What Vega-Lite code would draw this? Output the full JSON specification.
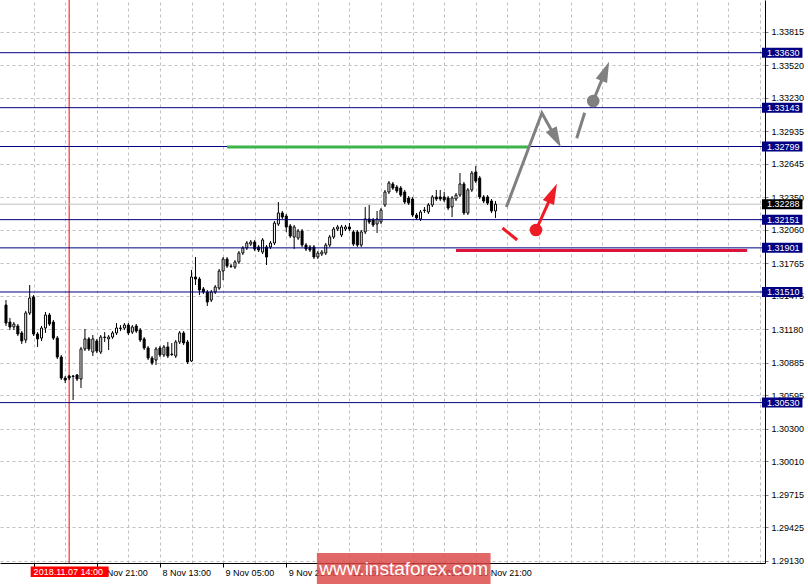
{
  "$schema": "https://vega.github.io/schema/vega-lite/v6.json",
  "width": 765,
  "height": 563,
  "autosize": {"type": "none"},
  "padding": {"left": 0, "top": 0, "right": 43, "bottom": 21},
  "background": "#ffffff",
  "config": {"view": {"stroke": null}, "font": "Liberation Sans"},
  "resolve": {"scale": {"color": "independent"}, "axis": {"x": "independent", "y": "independent"}},
  "datasets": {
    "candles": [
      {"i":0,"o":1.31395,"h":1.31439,"l":1.31209,"c":1.31235},
      {"i":1,"o":1.31244,"h":1.31280,"l":1.31173,"c":1.31200},
      {"i":2,"o":1.31200,"h":1.31244,"l":1.31173,"c":1.31226},
      {"i":3,"o":1.31209,"h":1.31226,"l":1.31120,"c":1.31138},
      {"i":4,"o":1.31147,"h":1.31164,"l":1.31049,"c":1.31076},
      {"i":5,"o":1.31085,"h":1.31342,"l":1.31058,"c":1.31324},
      {"i":6,"o":1.31324,"h":1.31572,"l":1.31306,"c":1.31457},
      {"i":7,"o":1.31466,"h":1.31483,"l":1.31120,"c":1.31138},
      {"i":8,"o":1.31138,"h":1.31155,"l":1.31023,"c":1.31094},
      {"i":9,"o":1.31102,"h":1.31209,"l":1.31076,"c":1.31191},
      {"i":10,"o":1.31191,"h":1.31333,"l":1.31147,"c":1.31306},
      {"i":11,"o":1.31306,"h":1.31324,"l":1.31209,"c":1.31226},
      {"i":12,"o":1.31244,"h":1.31262,"l":1.31085,"c":1.31102},
      {"i":13,"o":1.31102,"h":1.31120,"l":1.30916,"c":1.30934},
      {"i":14,"o":1.30934,"h":1.30952,"l":1.30730,"c":1.30748},
      {"i":15,"o":1.30748,"h":1.30766,"l":1.30704,"c":1.30730},
      {"i":16,"o":1.30766,"h":1.30775,"l":1.30730,"c":1.30748},
      {"i":17,"o":1.30766,"h":1.30775,"l":1.30553,"c":1.30761},
      {"i":18,"o":1.30775,"h":1.30783,"l":1.30721,"c":1.30739},
      {"i":19,"o":1.30739,"h":1.31023,"l":1.30659,"c":1.31005},
      {"i":20,"o":1.31005,"h":1.31182,"l":1.30987,"c":1.31094},
      {"i":21,"o":1.31094,"h":1.31111,"l":1.30987,"c":1.31005},
      {"i":22,"o":1.30978,"h":1.31129,"l":1.30943,"c":1.31094},
      {"i":23,"o":1.31076,"h":1.31094,"l":1.30969,"c":1.30987},
      {"i":24,"o":1.30978,"h":1.31129,"l":1.30960,"c":1.31111},
      {"i":25,"o":1.31111,"h":1.31155,"l":1.31067,"c":1.31107},
      {"i":26,"o":1.31094,"h":1.31129,"l":1.30996,"c":1.31111},
      {"i":27,"o":1.31111,"h":1.31164,"l":1.31094,"c":1.31147},
      {"i":28,"o":1.31147,"h":1.31235,"l":1.31129,"c":1.31191},
      {"i":29,"o":1.31191,"h":1.31217,"l":1.31164,"c":1.31187},
      {"i":30,"o":1.31191,"h":1.31235,"l":1.31173,"c":1.31217},
      {"i":31,"o":1.31217,"h":1.31235,"l":1.31129,"c":1.31147},
      {"i":32,"o":1.31155,"h":1.31217,"l":1.31138,"c":1.31200},
      {"i":33,"o":1.31209,"h":1.31226,"l":1.31147,"c":1.31164},
      {"i":34,"o":1.31173,"h":1.31191,"l":1.31067,"c":1.31085},
      {"i":35,"o":1.31094,"h":1.31111,"l":1.30996,"c":1.31014},
      {"i":36,"o":1.31014,"h":1.31032,"l":1.30907,"c":1.30925},
      {"i":37,"o":1.30925,"h":1.30943,"l":1.30863,"c":1.30881},
      {"i":38,"o":1.30907,"h":1.31023,"l":1.30863,"c":1.31005},
      {"i":39,"o":1.31014,"h":1.31032,"l":1.30934,"c":1.30952},
      {"i":40,"o":1.30952,"h":1.31040,"l":1.30934,"c":1.31023},
      {"i":41,"o":1.31023,"h":1.31067,"l":1.30925,"c":1.30943},
      {"i":42,"o":1.30960,"h":1.31058,"l":1.30943,"c":1.30956},
      {"i":43,"o":1.30943,"h":1.31085,"l":1.30925,"c":1.31067},
      {"i":44,"o":1.31067,"h":1.31164,"l":1.31049,"c":1.31147},
      {"i":45,"o":1.31147,"h":1.31164,"l":1.31040,"c":1.31058},
      {"i":46,"o":1.31067,"h":1.31085,"l":1.30872,"c":1.30890},
      {"i":47,"o":1.30899,"h":1.31705,"l":1.30890,"c":1.31643},
      {"i":48,"o":1.31643,"h":1.31820,"l":1.31572,"c":1.31625},
      {"i":49,"o":1.31625,"h":1.31643,"l":1.31483,"c":1.31528},
      {"i":50,"o":1.31537,"h":1.31554,"l":1.31492,"c":1.31510},
      {"i":51,"o":1.31510,"h":1.31528,"l":1.31386,"c":1.31421},
      {"i":52,"o":1.31439,"h":1.31528,"l":1.31421,"c":1.31510},
      {"i":53,"o":1.31510,"h":1.31572,"l":1.31492,"c":1.31554},
      {"i":54,"o":1.31545,"h":1.31714,"l":1.31528,"c":1.31696},
      {"i":55,"o":1.31696,"h":1.31820,"l":1.31616,"c":1.31802},
      {"i":56,"o":1.31802,"h":1.31820,"l":1.31723,"c":1.31740},
      {"i":57,"o":1.31740,"h":1.31758,"l":1.31723,"c":1.31736},
      {"i":58,"o":1.31731,"h":1.31793,"l":1.31714,"c":1.31776},
      {"i":59,"o":1.31776,"h":1.31873,"l":1.31758,"c":1.31855},
      {"i":60,"o":1.31855,"h":1.31917,"l":1.31838,"c":1.31900},
      {"i":61,"o":1.31900,"h":1.31962,"l":1.31882,"c":1.31944},
      {"i":62,"o":1.31935,"h":1.31971,"l":1.31917,"c":1.31953},
      {"i":63,"o":1.31953,"h":1.31971,"l":1.31873,"c":1.31891},
      {"i":64,"o":1.31909,"h":1.31926,"l":1.31864,"c":1.31882},
      {"i":65,"o":1.31864,"h":1.31988,"l":1.31847,"c":1.31971},
      {"i":66,"o":1.31909,"h":1.31926,"l":1.31749,"c":1.31820},
      {"i":67,"o":1.31909,"h":1.31962,"l":1.31891,"c":1.31944},
      {"i":68,"o":1.31944,"h":1.32139,"l":1.31926,"c":1.32121},
      {"i":69,"o":1.32112,"h":1.32307,"l":1.32095,"c":1.32210},
      {"i":70,"o":1.32210,"h":1.32228,"l":1.32157,"c":1.32174},
      {"i":71,"o":1.32183,"h":1.32201,"l":1.32042,"c":1.32086},
      {"i":72,"o":1.32095,"h":1.32112,"l":1.31988,"c":1.32006},
      {"i":73,"o":1.31997,"h":1.32104,"l":1.31891,"c":1.32086},
      {"i":74,"o":1.31988,"h":1.32068,"l":1.31971,"c":1.32050},
      {"i":75,"o":1.32050,"h":1.32068,"l":1.31909,"c":1.31926},
      {"i":76,"o":1.31926,"h":1.31944,"l":1.31873,"c":1.31891},
      {"i":77,"o":1.31909,"h":1.31926,"l":1.31864,"c":1.31882},
      {"i":78,"o":1.31909,"h":1.31926,"l":1.31802,"c":1.31820},
      {"i":79,"o":1.31820,"h":1.31873,"l":1.31802,"c":1.31855},
      {"i":80,"o":1.31847,"h":1.31882,"l":1.31829,"c":1.31864},
      {"i":81,"o":1.31855,"h":1.31944,"l":1.31838,"c":1.31926},
      {"i":82,"o":1.31926,"h":1.32015,"l":1.31909,"c":1.31997},
      {"i":83,"o":1.31997,"h":1.32086,"l":1.31980,"c":1.32068},
      {"i":84,"o":1.32068,"h":1.32104,"l":1.32050,"c":1.32086},
      {"i":85,"o":1.32015,"h":1.32104,"l":1.31997,"c":1.32086},
      {"i":86,"o":1.32068,"h":1.32104,"l":1.32050,"c":1.32086},
      {"i":87,"o":1.32086,"h":1.32121,"l":1.32050,"c":1.32068},
      {"i":88,"o":1.32042,"h":1.32059,"l":1.31917,"c":1.31935},
      {"i":89,"o":1.32042,"h":1.32059,"l":1.31909,"c":1.31926},
      {"i":90,"o":1.31926,"h":1.32059,"l":1.31909,"c":1.32042},
      {"i":91,"o":1.32042,"h":1.32263,"l":1.32024,"c":1.32157},
      {"i":92,"o":1.32157,"h":1.32281,"l":1.32112,"c":1.32130},
      {"i":93,"o":1.32148,"h":1.32166,"l":1.32086,"c":1.32104},
      {"i":94,"o":1.32112,"h":1.32228,"l":1.32033,"c":1.32157},
      {"i":95,"o":1.32130,"h":1.32254,"l":1.32112,"c":1.32236},
      {"i":96,"o":1.32281,"h":1.32414,"l":1.32263,"c":1.32396},
      {"i":97,"o":1.32396,"h":1.32493,"l":1.32378,"c":1.32476},
      {"i":98,"o":1.32467,"h":1.32485,"l":1.32414,"c":1.32431},
      {"i":99,"o":1.32440,"h":1.32458,"l":1.32387,"c":1.32405},
      {"i":100,"o":1.32431,"h":1.32449,"l":1.32352,"c":1.32369},
      {"i":101,"o":1.32396,"h":1.32414,"l":1.32290,"c":1.32307},
      {"i":102,"o":1.32343,"h":1.32360,"l":1.32281,"c":1.32298},
      {"i":103,"o":1.32334,"h":1.32352,"l":1.32174,"c":1.32192},
      {"i":104,"o":1.32192,"h":1.32210,"l":1.32148,"c":1.32166},
      {"i":105,"o":1.32157,"h":1.32236,"l":1.32139,"c":1.32219},
      {"i":106,"o":1.32236,"h":1.32263,"l":1.32210,"c":1.32232},
      {"i":107,"o":1.32219,"h":1.32298,"l":1.32201,"c":1.32281},
      {"i":108,"o":1.32281,"h":1.32369,"l":1.32263,"c":1.32352},
      {"i":109,"o":1.32352,"h":1.32414,"l":1.32316,"c":1.32334},
      {"i":110,"o":1.32352,"h":1.32414,"l":1.32316,"c":1.32334},
      {"i":111,"o":1.32352,"h":1.32396,"l":1.32307,"c":1.32325},
      {"i":112,"o":1.32343,"h":1.32360,"l":1.32236,"c":1.32254},
      {"i":113,"o":1.32263,"h":1.32360,"l":1.32174,"c":1.32343},
      {"i":114,"o":1.32334,"h":1.32387,"l":1.32316,"c":1.32369},
      {"i":115,"o":1.32369,"h":1.32564,"l":1.32352,"c":1.32467},
      {"i":116,"o":1.32467,"h":1.32485,"l":1.32192,"c":1.32210},
      {"i":117,"o":1.32210,"h":1.32431,"l":1.32192,"c":1.32414},
      {"i":118,"o":1.32414,"h":1.32582,"l":1.32396,"c":1.32564},
      {"i":119,"o":1.32573,"h":1.32626,"l":1.32476,"c":1.32493},
      {"i":120,"o":1.32520,"h":1.32538,"l":1.32334,"c":1.32352},
      {"i":121,"o":1.32352,"h":1.32369,"l":1.32298,"c":1.32316},
      {"i":122,"o":1.32352,"h":1.32369,"l":1.32281,"c":1.32298},
      {"i":123,"o":1.32316,"h":1.32334,"l":1.32210,"c":1.32228},
      {"i":124,"o":1.32228,"h":1.32316,"l":1.32166,"c":1.32288}
    ],
    "levels": [
      {"p":1.33630},
      {"p":1.33143},
      {"p":1.32799},
      {"p":1.32151},
      {"p":1.31901},
      {"p":1.31510},
      {"p":1.30530}
    ],
    "tags": [
      {"p":1.33630,"kind":"level"},
      {"p":1.33143,"kind":"level"},
      {"p":1.32799,"kind":"level"},
      {"p":1.32288,"kind":"bid"},
      {"p":1.32151,"kind":"level"},
      {"p":1.31901,"kind":"level"},
      {"p":1.31510,"kind":"level"},
      {"p":1.30530,"kind":"level"}
    ],
    "zones": [
      {"i1":56,"i2":132.25,"p":1.32795,"kind":"resistance"},
      {"i1":114,"i2":187.75,"p":1.31878,"kind":"support"}
    ],
    "paths": [
      {"seg":"g1","ord":0,"i":126.75,"p":1.32263,"col":"gray"},
      {"seg":"g1","ord":1,"i":135.75,"p":1.33096,"col":"gray"},
      {"seg":"g1","ord":2,"i":139.3,"p":1.32873,"col":"gray"},
      {"seg":"g2","ord":0,"i":144.58,"p":1.32872,"col":"gray"},
      {"seg":"g2","ord":1,"i":146.58,"p":1.33098,"col":"gray"},
      {"seg":"g3","ord":0,"i":148.75,"p":1.33202,"col":"gray"},
      {"seg":"g3","ord":1,"i":151.8,"p":1.33466,"col":"gray"},
      {"seg":"r1","ord":0,"i":125.75,"p":1.32077,"col":"red"},
      {"seg":"r1","ord":1,"i":129.5,"p":1.31971,"col":"red"},
      {"seg":"r2","ord":0,"i":134.25,"p":1.32059,"col":"red"},
      {"seg":"r2","ord":1,"i":138.48,"p":1.32386,"col":"red"}
    ],
    "dots": [
      {"i":148.75,"p":1.33202,"col":"gray"},
      {"i":134.25,"p":1.32059,"col":"red"}
    ],
    "heads": [
      {"i":139.33,"p":1.32873,"dir":152,"col":"gray"},
      {"i":151.8,"p":1.33466,"dir":22,"col":"gray"},
      {"i":138.48,"p":1.32386,"dir":24.5,"col":"red"}
    ],
    "cursor": [{"i":16,"label":"2018.11.07 14:00"}],
    "brand": [{"label":"www.instaforex.com"}]
  },
  "layer": [
    {
      "data": {"name": "cursor"},
      "mark": {"type": "rule", "color": "#ff0000", "strokeWidth": 1},
      "encoding": {
        "x": {
          "field": "i", "type": "quantitative",
          "scale": {"domain": [-0.25, 191], "nice": false, "zero": false},
          "axis": {
            "orient": "bottom",
            "title": null,
            "values": [7,15,23,31,39,47,55,63,71,79,87,95,103,111,119,127,135,143,151,159,167,175,183,191],
            "grid": true,
            "gridColor": "#c0c0c0",
            "gridDash": [3, 3],
            "gridWidth": 1,
            "domainColor": "#000000",
            "domainWidth": 1,
            "tickColor": "#000000",
            "tickSize": 4,
            "tickOpacity": {"condition": {"test": "datum.value % 16 == 7 && datum.value <= 119", "value": 1}, "value": 0},
            "labelExpr": "datum.value % 16 == 7 && datum.value >= 23 && datum.value <= 119 ? ['7 Nov 05:00','7 Nov 21:00','8 Nov 13:00','9 Nov 05:00','9 Nov 21:00','12 Nov 13:00','13 Nov 05:00','13 Nov 21:00'][(datum.value - 7) / 16] : ''",
            "labelFont": "Liberation Sans",
            "labelFontSize": 9,
            "labelColor": "#000000",
            "labelAlign": "left",
            "labelPadding": 1,
            "labelOffset": 2,
            "labelOverlap": false,
            "labelBound": false,
            "labelFlush": false
          }
        }
      }
    },
    {
      "data": {"name": "tags"},
      "transform": [{"filter": "datum.kind == 'bid'"}],
      "mark": {"type": "rule", "color": "#c0c0c0", "strokeWidth": 1},
      "encoding": {
        "y": {
          "field": "p", "type": "quantitative",
          "scale": {"domain": [1.29109, 1.34097], "nice": false, "zero": false},
          "axis": {
            "orient": "right",
            "title": null,
            "values": [1.33815,1.33520,1.33230,1.32935,1.32645,1.32350,1.32060,1.31765,1.31475,1.31180,1.30885,1.30595,1.30300,1.30010,1.29715,1.29425,1.29130],
            "format": ".5f",
            "grid": true,
            "gridColor": "#c0c0c0",
            "gridDash": [3, 3],
            "gridWidth": 1,
            "domainColor": "#000000",
            "domainWidth": 1,
            "tickColor": "#808080",
            "tickSize": 3,
            "labelFont": "Liberation Sans",
            "labelFontSize": 9,
            "labelColor": "#000000",
            "labelPadding": 3,
            "labelOverlap": false,
            "labelBound": false,
            "labelFlush": false
          }
        }
      }
    },
    {
      "data": {"name": "candles"},
      "mark": {"type": "rule", "color": "#000000", "strokeWidth": 1},
      "encoding": {
        "x": {"field": "i", "type": "quantitative", "axis": null},
        "y": {"field": "l", "type": "quantitative", "axis": null},
        "y2": {"field": "h"}
      }
    },
    {
      "data": {"name": "candles"},
      "mark": {"type": "bar", "orient": "vertical", "size": 2, "stroke": "#000000", "strokeWidth": 1},
      "encoding": {
        "x": {"field": "i", "type": "quantitative", "axis": null},
        "y": {"field": "o", "type": "quantitative", "axis": null},
        "y2": {"field": "c"},
        "fill": {"condition": {"test": "datum.c >= datum.o", "value": "#ffffff"}, "value": "#000000"}
      }
    },
    {
      "data": {"name": "levels"},
      "mark": {"type": "rule", "color": "#000080", "strokeWidth": 1},
      "encoding": {
        "y": {"field": "p", "type": "quantitative", "axis": null}
      }
    },
    {
      "data": {"name": "zones"},
      "mark": {"type": "rule", "strokeWidth": 3},
      "encoding": {
        "x": {"field": "i1", "type": "quantitative", "axis": null},
        "x2": {"field": "i2"},
        "y": {"field": "p", "type": "quantitative", "axis": null},
        "color": {"field": "kind", "type": "nominal", "legend": null, "scale": {"domain": ["resistance", "support"], "range": ["#3cb44a", "#dc143c"]}}
      }
    },
    {
      "data": {"name": "paths"},
      "mark": {"type": "line", "strokeWidth": 3},
      "encoding": {
        "x": {"field": "i", "type": "quantitative", "axis": null},
        "y": {"field": "p", "type": "quantitative", "axis": null},
        "detail": {"field": "seg", "type": "nominal"},
        "order": {"field": "ord", "type": "quantitative"},
        "color": {"field": "col", "type": "nominal", "legend": null, "scale": {"domain": ["gray", "red"], "range": ["#808080", "#ee1c25"]}}
      }
    },
    {
      "data": {"name": "dots"},
      "mark": {"type": "point", "shape": "circle", "filled": true, "opacity": 1, "size": 160},
      "encoding": {
        "x": {"field": "i", "type": "quantitative", "axis": null},
        "y": {"field": "p", "type": "quantitative", "axis": null},
        "color": {"field": "col", "type": "nominal", "legend": null, "scale": {"domain": ["gray", "red"], "range": ["#808080", "#ee1c25"]}}
      }
    },
    {
      "data": {"name": "heads"},
      "mark": {"type": "point", "shape": "M0,-1L0.6,1L-0.6,1Z", "filled": true, "opacity": 1, "size": 420},
      "encoding": {
        "x": {"field": "i", "type": "quantitative", "axis": null},
        "y": {"field": "p", "type": "quantitative", "axis": null},
        "angle": {"field": "dir", "type": "quantitative", "scale": null},
        "color": {"field": "col", "type": "nominal", "legend": null, "scale": {"domain": ["gray", "red"], "range": ["#808080", "#ee1c25"]}}
      }
    },
    {
      "data": {"name": "tags"},
      "mark": {"type": "rect", "yOffset": -5, "y2Offset": 5, "clip": false},
      "encoding": {
        "x": {"datum": 191.5, "type": "quantitative", "axis": null},
        "x2": {"datum": 201.75},
        "y": {"field": "p", "type": "quantitative", "axis": null},
        "y2": {"field": "p"},
        "color": {"field": "kind", "type": "nominal", "legend": null, "scale": {"domain": ["level", "bid"], "range": ["#000080", "#000000"]}}
      }
    },
    {
      "data": {"name": "tags"},
      "mark": {"type": "text", "align": "left", "baseline": "middle", "color": "#ffffff", "font": "Liberation Sans", "fontSize": 9, "clip": false},
      "encoding": {
        "x": {"datum": 192.75, "type": "quantitative", "axis": null},
        "y": {"field": "p", "type": "quantitative", "axis": null},
        "text": {"field": "p", "type": "quantitative", "format": ".5f"}
      }
    },
    {
      "data": {"name": "cursor"},
      "mark": {"type": "rect", "color": "#ff0000", "clip": false},
      "encoding": {
        "x": {"datum": 6.25, "type": "quantitative", "axis": null},
        "x2": {"datum": 26},
        "y": {"datum": 1.29078, "type": "quantitative", "axis": null},
        "y2": {"datum": 1.28985}
      }
    },
    {
      "data": {"name": "cursor"},
      "mark": {"type": "text", "align": "left", "baseline": "middle", "color": "#ffffff", "font": "Liberation Sans", "fontSize": 9, "clip": false},
      "encoding": {
        "x": {"datum": 7, "type": "quantitative", "axis": null},
        "y": {"datum": 1.29029, "type": "quantitative", "axis": null},
        "text": {"field": "label"}
      }
    },
    {
      "data": {"name": "brand"},
      "mark": {"type": "rect", "color": "#dc4646", "opacity": 0.82, "clip": false},
      "encoding": {
        "x": {"datum": 78.75, "type": "quantitative", "axis": null},
        "x2": {"datum": 122.75},
        "y": {"datum": 1.29197, "type": "quantitative", "axis": null},
        "y2": {"datum": 1.28923}
      }
    },
    {
      "data": {"name": "brand"},
      "mark": {"type": "text", "align": "center", "baseline": "middle", "color": "#ffffff", "font": "Liberation Sans", "fontSize": 19, "clip": false},
      "encoding": {
        "x": {"datum": 100.75, "type": "quantitative", "axis": null},
        "y": {"datum": 1.29056, "type": "quantitative", "axis": null},
        "text": {"field": "label"}
      }
    }
  ]
}
